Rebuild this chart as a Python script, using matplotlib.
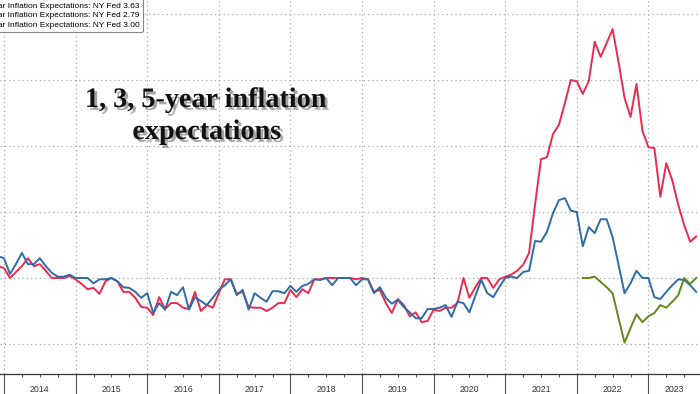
import pandas as pd
import matplotlib.pyplot as plt
import matplotlib.patheffects as pe

# monthly readings, Dec 2013 onwards (1y, 3y) and Feb 2022 onwards (5y)
one_year = [3.18, 3.15, 3.00, 3.09, 3.18, 3.30, 3.18, 3.21, 3.11, 3.00, 3.00, 3.00, 3.03,
            2.98, 2.91, 2.83, 2.85, 2.76, 2.95, 3.00, 2.95, 2.79, 2.79, 2.70, 2.56,
            2.55, 2.44, 2.71, 2.53, 2.62, 2.62, 2.55, 2.53, 2.79, 2.50, 2.59, 2.55,
            2.77, 2.98, 2.98, 2.76, 2.79, 2.56, 2.55, 2.55, 2.50, 2.55, 2.62, 2.62,
            2.82, 2.71, 2.83, 2.77, 2.98, 2.98, 3.00, 3.00, 3.00, 3.00, 3.00, 2.98,
            3.00, 2.98, 2.79, 2.82, 2.62, 2.47, 2.68, 2.59, 2.42, 2.48, 2.33, 2.35,
            2.52, 2.50, 2.55, 2.55, 2.62, 3.00, 2.70, 2.86, 3.00, 3.00, 2.85, 2.98,
            3.02, 3.05, 3.11, 3.20, 3.38, 4.11, 4.80, 4.83, 5.18, 5.32, 5.65, 6.00,
            5.98, 5.79, 5.98, 6.58, 6.35, 6.56, 6.77, 6.27, 5.73, 5.44, 5.94, 5.23,
            4.98, 4.97, 4.23, 4.74, 4.48, 4.11, 3.80, 3.55, 3.63]

three_year = [3.33, 3.30, 3.06, 3.21, 3.38, 3.21, 3.21, 3.30, 3.18, 3.08, 3.02, 3.02, 3.05,
              3.00, 3.00, 3.00, 2.92, 2.98, 2.98, 3.00, 2.95, 2.86, 2.85, 2.79, 2.70,
              2.77, 2.47, 2.62, 2.52, 2.79, 2.74, 2.86, 2.52, 2.71, 2.65, 2.59, 2.70,
              2.82, 2.89, 2.98, 2.74, 2.82, 2.52, 2.77, 2.70, 2.64, 2.80, 2.80, 2.77,
              2.88, 2.79, 2.88, 2.91, 2.98, 2.97, 3.00, 2.89, 3.00, 3.00, 3.00, 2.89,
              2.98, 2.98, 2.77, 2.86, 2.70, 2.61, 2.67, 2.56, 2.48, 2.39, 2.39, 2.53,
              2.53, 2.55, 2.59, 2.41, 2.64, 2.62, 2.48, 2.73, 2.97, 2.77, 2.71, 2.86,
              3.00, 3.02, 3.00, 3.09, 3.11, 3.56, 3.55, 3.70, 3.98, 4.18, 4.21, 4.02,
              4.00, 3.48, 3.77, 3.68, 3.89, 3.89, 3.62, 3.20, 2.77, 2.92, 3.11, 3.00,
              3.00, 2.71, 2.68, 2.79, 2.89, 2.98, 2.97, 2.89, 2.79]

five_year = [3.00, 3.00, 3.02, 2.94, 2.86, 2.77, 2.39, 2.02, 2.24, 2.45, 2.33, 2.42,
             2.47, 2.59, 2.55, 2.64, 2.74, 3.00, 2.91, 3.00]

years = list(range(2014, 2024))


def dec_year(start, n):
    d = pd.date_range(start, periods=n, freq='MS')
    return d.year + (d.month - 1) / 12


x13 = dec_year('2013-12-01', len(one_year))
x5 = dec_year('2022-02-01', len(five_year))

fig = plt.figure(figsize=(7, 3.94), dpi=100)
ax = fig.add_axes([0, 20 / 394, 1, 374 / 394])

ax.plot(x13, one_year, color='#ee2a4c', lw=1.4,
        label='1-Year Inflation Expectations: NY Fed %.2f' % one_year[-1])
ax.plot(x13, three_year, color='#2f6ca6', lw=1.4,
        label='3-Year Inflation Expectations: NY Fed %.2f' % three_year[-1])
ax.plot(x5, five_year, color='#5e8b1c', lw=1.4,
        label='5-Year Inflation Expectations: NY Fed %.2f' % five_year[-1])

ax.set_xticks(years)
ax.set_xticks([y + q / 4 for y in range(2013, 2024) for q in (1, 2, 3)], minor=True)
ax.set_xticklabels([])
ax.set_yticks([2, 3, 4, 5, 6, 7])
# limits after the ticks, set_ticks would widen them otherwise
ax.set_xlim(2014 - 4 / 71.6, 2014 + 696 / 71.6)
ax.set_ylim(3 - 96 / 66, 3 + 278 / 66)

ax.tick_params(axis='x', which='major', direction='out', length=15, width=0.8, color='#555555')
ax.tick_params(axis='x', which='minor', direction='out', length=2.5, width=0.8, color='#555555')
ax.tick_params(axis='y', left=False, labelleft=False)
ax.grid(True, which='major', ls=(0, (1, 2.5)), color='#a8a8a8', lw=0.9)

for s in ['top', 'left', 'right']:
    ax.spines[s].set_visible(False)
ax.spines['bottom'].set_color('#333333')
ax.spines['bottom'].set_linewidth(0.9)

# year labels centred in each year band
right = ax.get_xlim()[1]
for y in years:
    xc = y + 0.5 if y + 1 <= right else (y + right) / 2
    ax.text(xc, -15 / 374, str(y), transform=ax.get_xaxis_transform(), fontsize=6.3,
            family='Liberation Sans', color='#333333', ha='center', va='center',
            clip_on=False)

leg = fig.legend(loc='upper right', bbox_to_anchor=(143 / 700, 1.004),
                 prop={'family': 'Liberation Sans', 'size': 6}, labelspacing=0.2,
                 borderpad=0.4, handlelength=2, framealpha=1, edgecolor='#888888',
                 fancybox=True, borderaxespad=0)
leg.get_frame().set_linewidth(0.8)

shadow = [pe.withSimplePatchShadow(offset=(2, -2), shadow_rgbFace='black', alpha=0.35)]
fig.text(206 / 700, 1 - 107 / 394, '1, 3, 5-year inflation', fontsize=20.3,
         family='Liberation Serif', weight='bold', ha='center', va='baseline',
         color='#111111', path_effects=shadow)
fig.text(207 / 700, 1 - 139 / 394, 'expectations', fontsize=20.3,
         family='Liberation Serif', weight='bold', ha='center', va='baseline',
         color='#111111', path_effects=shadow)

fig.savefig('out.png', dpi=100)
